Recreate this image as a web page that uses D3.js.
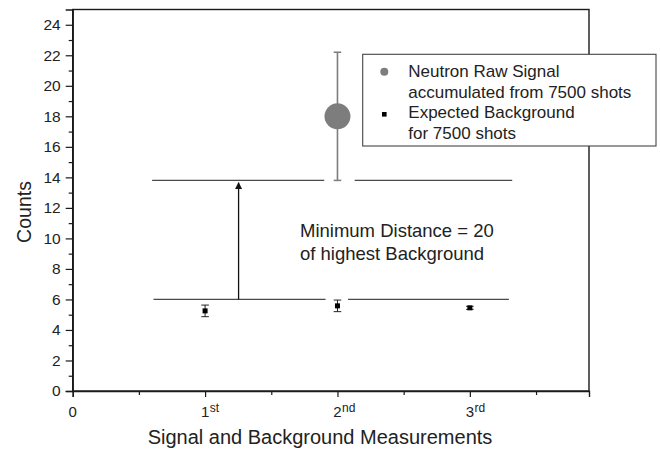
<!DOCTYPE html>
<html><head><meta charset="utf-8">
<script src="https://cdn.jsdelivr.net/npm/d3@7"></script>
<style>body{margin:0;background:#fff}svg{display:block;font-family:"Liberation Sans",Arial,sans-serif}</style>
</head><body>
<svg id="c" width="660" height="453"></svg>
<script>
// ---- data ----
const xTickValues = [0, 1, 2, 3];
const xTickMain = ["0", "1", "2", "3"];
const xTickSup = ["", "st", "nd", "rd"];
const xMinorTicks = [0.5, 1.5, 2.5, 3.5];
const yTickValues = [0, 2, 4, 6, 8, 10, 12, 14, 16, 18, 20, 22, 24];
const yMinorTicks = [1, 3, 5, 7, 9, 11, 13, 15, 17, 19, 21, 23];
const signalX = [2];
const signalY = [18];
const signalErr = [4.2];
const bgX = [1, 2, 3];
const bgY = [5.25, 5.58, 5.45];
const bgErr = [0.38, 0.38, 0.1];
// threshold segments: [xStart, xEnd, y]
const lowLine = [[0.61, 1.91, 6], [2.08, 3.295, 6]];
const highLine = [[0.6, 1.9, 13.8], [2.13, 3.32, 13.8]];
const arrowX = [1.253];
const arrowFrom = [6];
const arrowTo = [13.65];
const legendLabels = [["Neutron Raw Signal", "accumulated from 7500 shots"], ["Expected Background", "for 7500 shots"]];
const noteLines = ["Minimum Distance = 20", "of highest Background"];

// ---- scales ----
const svg = d3.select("#c");
const x = d3.scaleLinear().domain([0, 3.9]).range([72.7, 589]);
const y = d3.scaleLinear().domain([0, 25]).range([391, 9.5]);
const axisCol = "#1a1a1a";
const textCol = "#222";

// frame
svg.append("rect").attr("x", x(0)).attr("y", y(25)).attr("width", x(3.9) - x(0)).attr("height", y(0) - y(25))
  .attr("fill", "none").attr("stroke", axisCol).attr("stroke-width", 1.4);

// y axis
const yAxis = svg.append("g").attr("transform", `translate(${x(0)},0)`)
  .call(d3.axisLeft(y).tickValues(yTickValues).tickSize(7).tickPadding(5).tickFormat(d3.format("d")));
yAxis.select(".domain").attr("stroke", axisCol).attr("stroke-width", 1.4);
yAxis.selectAll(".tick line").attr("stroke", axisCol).attr("stroke-width", 1.2);
yAxis.selectAll("text").attr("font-size", 15.5).attr("fill", textCol).attr("font-family", "Liberation Sans, Arial");
svg.append("g").attr("transform", `translate(${x(0)},0)`)
  .call(d3.axisLeft(y).tickValues(yMinorTicks).tickSize(4).tickFormat(""))
  .call(g => g.select(".domain").remove())
  .selectAll("line").attr("stroke", axisCol).attr("stroke-width", 1.2);

// x axis
const xAxis = svg.append("g").attr("transform", `translate(0,${y(0)})`)
  .call(d3.axisBottom(x).tickValues(xTickValues).tickSize(6).tickFormat(""));
xAxis.select(".domain").attr("stroke", axisCol).attr("stroke-width", 1.4);
xAxis.selectAll(".tick line").attr("stroke", axisCol).attr("stroke-width", 1.2);
svg.append("g").attr("transform", `translate(0,${y(0)})`)
  .call(d3.axisBottom(x).tickValues(xMinorTicks).tickSize(4).tickFormat(""))
  .call(g => g.select(".domain").remove())
  .selectAll("line").attr("stroke", axisCol).attr("stroke-width", 1.2);

// x tick labels with superscripts
const xl = svg.append("g").attr("font-size", 15).attr("fill", textCol);
xTickValues.forEach((v, i) => {
  xl.append("text").attr("x", x(v)).attr("y", 416.5).attr("text-anchor", "middle").text(xTickMain[i]);
  if (xTickSup[i]) xl.append("text").attr("x", x(v) + 4.6).attr("y", 412).attr("font-size", 12).text(xTickSup[i]);
});

// axis titles
svg.append("text").attr("x", 320).attr("y", 444.3).attr("text-anchor", "middle").attr("font-size", 20).attr("fill", textCol)
  .text("Signal and Background Measurements");
svg.append("text").attr("transform", "translate(30.5,212) rotate(-90)").attr("text-anchor", "middle").attr("font-size", 19.5).attr("fill", textCol)
  .text("Counts");

// threshold lines
svg.append("g").selectAll("line").data(lowLine.concat(highLine)).join("line")
  .attr("x1", d => x(d[0])).attr("x2", d => x(d[1])).attr("y1", d => y(d[2])).attr("y2", d => y(d[2]))
  .attr("stroke", "#4a4a4a").attr("stroke-width", 1.3);

// arrow
svg.append("defs").append("marker").attr("id", "ah").attr("viewBox", "0 0 10 10").attr("refX", 9).attr("refY", 5)
  .attr("markerWidth", 7).attr("markerHeight", 9).attr("markerUnits", "userSpaceOnUse").attr("orient", "auto")
  .append("path").attr("d", "M0,0 L10,5 L0,10 Z").attr("fill", "#111");
svg.append("g").selectAll("line").data(arrowX).join("line")
  .attr("x1", (d) => x(d)).attr("x2", d => x(d)).attr("y1", (d, i) => y(arrowFrom[i])).attr("y2", (d, i) => y(arrowTo[i]))
  .attr("stroke", "#111").attr("stroke-width", 1.3).attr("marker-end", "url(#ah)");

// signal error bar + marker
const sg = svg.append("g");
signalX.forEach((v, i) => {
  const cx = x(v), lo = y(signalY[i] - signalErr[i]), hi = y(signalY[i] + signalErr[i]);
  sg.append("line").attr("x1", cx).attr("x2", cx).attr("y1", lo).attr("y2", hi).attr("stroke", "#7d7d7d").attr("stroke-width", 1.6);
  [lo, hi].forEach(yy => sg.append("line").attr("x1", cx - 3.8).attr("x2", cx + 3.8).attr("y1", yy).attr("y2", yy).attr("stroke", "#7d7d7d").attr("stroke-width", 1.5));
  sg.append("circle").attr("cx", cx).attr("cy", y(signalY[i])).attr("r", 13).attr("fill", "#7d7d7d");
});

// background error bars + markers
const bg = svg.append("g");
bgX.forEach((v, i) => {
  const cx = x(v), lo = y(bgY[i] - bgErr[i]), hi = y(bgY[i] + bgErr[i]);
  bg.append("line").attr("x1", cx).attr("x2", cx).attr("y1", lo).attr("y2", hi).attr("stroke", "#222").attr("stroke-width", 1);
  [lo, hi].forEach(yy => bg.append("line").attr("x1", cx - 3.8).attr("x2", cx + 3.8).attr("y1", yy).attr("y2", yy).attr("stroke", "#222").attr("stroke-width", 1));
  bg.append("rect").attr("x", cx - 2.5).attr("y", y(bgY[i]) - 2.5).attr("width", 5).attr("height", 5).attr("fill", "#000");
});

// annotation
const note = svg.append("text").attr("font-size", 18.5).attr("fill", textCol);
noteLines.forEach((t, i) => note.append("tspan").attr("x", 300).attr("y", 236.7 + i * 23.3).text(t));

// legend
const lg = svg.append("g");
lg.append("rect").attr("x", 362.7).attr("y", 54.3).attr("width", 293.3).attr("height", 91.7).attr("fill", "#fff").attr("stroke", "#444").attr("stroke-width", 1.1);
lg.append("circle").attr("cx", 384.3).attr("cy", 71.7).attr("r", 4).attr("fill", "#7d7d7d");
lg.append("rect").attr("x", 382).attr("y", 112).attr("width", 4.6).attr("height", 4.6).attr("fill", "#000");
const ltxt = lg.append("text").attr("font-size", 17).attr("fill", textCol);
legendLabels.flat().forEach((t, i) => ltxt.append("tspan").attr("x", 408.3).attr("y", 77.3 + i * 20.4).text(t));
</script>
</body></html>
